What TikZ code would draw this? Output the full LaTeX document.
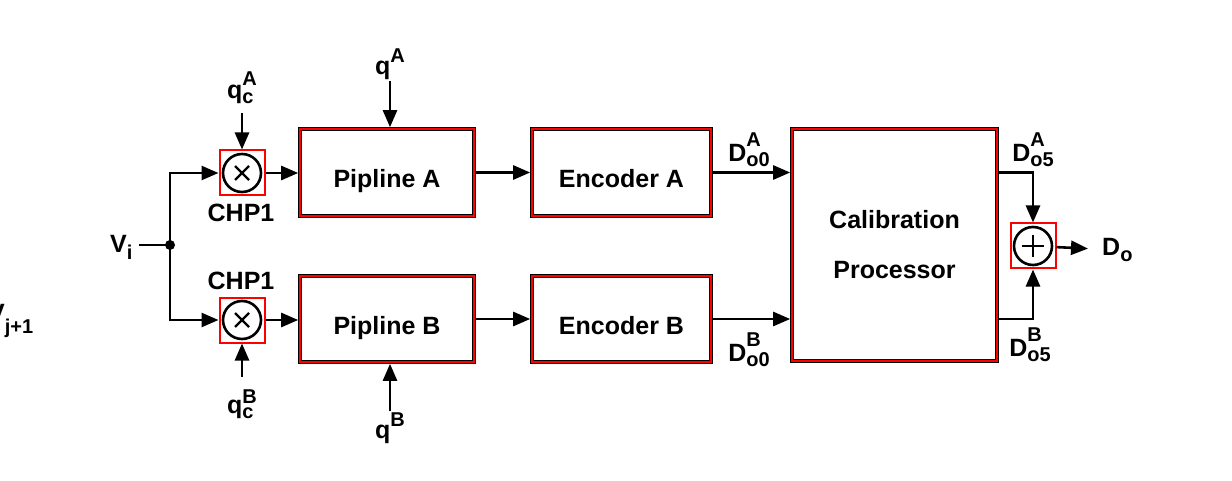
\documentclass[tikz,border=0pt]{standalone}
\usepackage{fontspec}
\setmainfont{Liberation Sans}
\usetikzlibrary{arrows.meta}

% script-sized text for sub- and superscripts
\newcommand\scr{\fontsize{20}{22}\selectfont}
% base with stacked superscript (#3) and subscript (#4); #1 = raise of the superscript
\newcommand\supsub[4][0.6em]{#2\ooalign{\raisebox{#1}{\scr #3}\cr\raisebox{-0.2em}{\scr #4}\cr}}
% base with a subscript lowered by #1
\newcommand\sub[3][0.22em]{#2\raisebox{-#1}{\scr #3}}
\newcommand\sups[2]{#1\raisebox{0.5em}{\scr #2}}

\begin{document}
\begin{tikzpicture}[x=1pt,y=-1pt,
  every node/.style={font=\fontsize{25}{30}\selectfont\bfseries, inner sep=2pt},
  arr/.style={line width=2.6pt, -{Triangle[length=17pt,width=14pt]}},
  wire/.style={line width=2.6pt},
  blockbox/.style={draw=black, line width=3.6pt, postaction={draw=red, line width=2.2pt}},
  boxtext/.style={text height=30pt, text depth=0pt},
  mulsq/.style={draw=red, line width=2pt, minimum size=45pt, inner sep=0pt},
  ring/.style={line width=2.6pt},
  lbl/.style={inner sep=1pt}
]
\useasboundingbox (0,0) rectangle (1232,481);

% input
\node[lbl, anchor=base west, inner sep=0pt] (vj) at (-12,321) {\sub[12pt]{V}{j+1}};
\node[lbl, anchor=base west, inner sep=0pt] (vi) at (110,253) {\sub[0.24em]{V}{i}};
\node[circle, fill=black, minimum size=10pt, inner sep=0pt] (dot) at (170,245) {};

% chopper multipliers
\node[mulsq] (mA) at (242,173) {};
\node[mulsq] (mB) at (242,320) {};
\foreach \m in {mA,mB}{
  \draw[ring] (\m.center) circle (19);
  \draw[line width=2.2pt] ([shift={(-7,-7)}]\m.center) -- ([shift={(7,7)}]\m.center)
                          ([shift={(-7,7)}]\m.center) -- ([shift={(7,-7)}]\m.center);
}
\node[lbl] (chA) at (241,213) {CHP1};
\node[lbl] (chB) at (241,281) {CHP1};
\node[lbl, anchor=base west, inner sep=0pt] (qcA) at (227,99) {\supsub[0.55em]{q}{A}{c}};
\node[lbl, anchor=base west, inner sep=0pt] (qcB) at (227,413) {\supsub[0.4em]{q}{B}{c}};

% pipelines and encoders
\node[blockbox, boxtext, minimum width=174pt, minimum height=87pt] (pa) at (387,172.5) {Pipline A};
\node[blockbox, boxtext, minimum width=174pt, minimum height=86pt] (pb) at (387,319) {Pipline B};
\node[blockbox, boxtext, minimum width=179pt, minimum height=87pt] (ea) at (621.5,172.5) {Encoder A};
\node[blockbox, boxtext, minimum width=179pt, minimum height=86pt] (eb) at (621.5,319) {Encoder B};
\node[lbl] (qA) at (390,64) {\sups{q}{A}};
\node[lbl] (qB) at (390,428) {\sups{q}{B}};

% calibration
\node[blockbox, minimum width=205pt, minimum height=232pt, align=center,
      font=\fontsize{25}{50}\selectfont\bfseries] (cal) at (894.5,245) {Calibration\\Processor};
\node[lbl] (dA0) at (749,150) {\supsub{D}{A}{o0}};
\node[lbl] (dB0) at (749,350) {\supsub{D}{B}{o0}};

% output adder
\node[mulsq] (sum) at (1033,246) {};
\draw[ring] (sum.center) circle (19);
\draw[line width=2.2pt] ([shift={(-11,0)}]sum.center) -- ([shift={(11,0)}]sum.center)
                        ([shift={(0,-11)}]sum.center) -- ([shift={(0,11)}]sum.center);
\node[lbl] (dA5) at (1033,150) {\supsub{D}{A}{o5}};
\node[lbl] (dB5) at (1030,345) {\supsub{D}{B}{o5}};
\node[lbl, anchor=west, inner sep=14pt] (Do) at (1088,250) {\sub{D}{o}};

% connections
\draw[wire] (dot.center -| vi.east) ++(6,0) -- (dot.center);
\draw[arr] (dot.center) |- (mA.west);
\draw[arr] (dot.center) |- (mB.west);
\draw[arr] (mA |- 0,113) -- (mA.north);
\draw[arr] (mB |- 0,377) -- (mB.south);
\draw[arr] (mA) -- (mA -| pa.west);
\draw[arr] (mB) -- (mB -| pb.west);
\draw[arr] (qA.south) -- (qA.south |- pa.north);
\draw[arr] (qB.north) -- (qB.north |- pb.south);
\draw[arr] (pa) -- (ea);
\draw[arr] (pb) -- (eb);
\draw[arr] (ea) -- (ea -| cal.west);
\draw[arr] (eb) -- (eb -| cal.west);
\draw[arr] (cal.east |- ea) -| (sum.north);
\draw[arr] (cal.east |- eb) -| (sum.south);
\draw[arr] (sum) -- (Do);
\end{tikzpicture}
\end{document}
